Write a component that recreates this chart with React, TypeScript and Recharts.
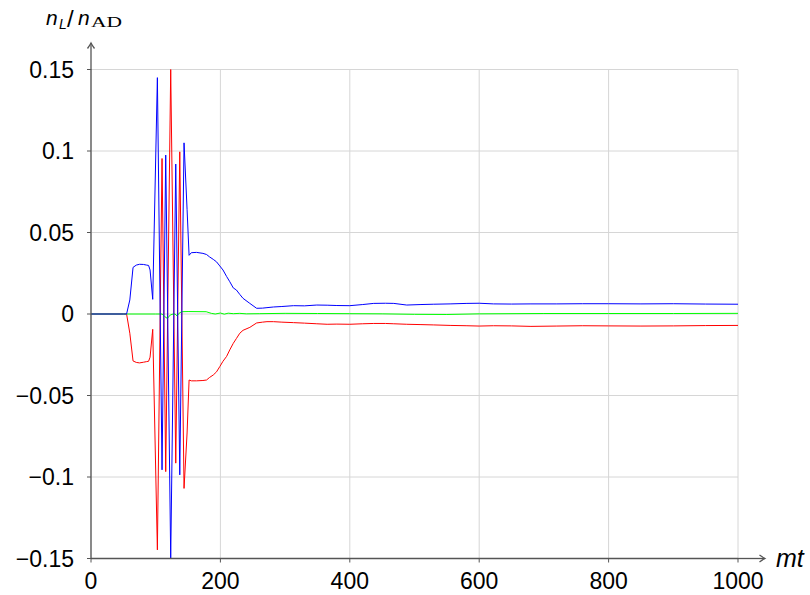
import React from 'react';
import { LineChart, Line, XAxis, YAxis, CartesianGrid } from 'recharts';

// blue and red share the same sample times (they mirror each other)
const signalTimes = [
  0, 50, 55, 60, 65, 70, 75, 81, 86, 89, 91.3, 95.4, 102.6, 109.8, 115.5, 123.2, 131, 137.2, 143.8,
  148.5, 151.6, 155, 163, 173, 178.6, 183, 189, 194, 199, 204, 209.6, 214.5, 219.9, 224.8, 230, 235,
  245.5, 256, 265, 272, 282, 295, 313, 330, 349, 365, 380, 400, 420, 437, 455, 468, 488, 510, 529,
  555, 581, 600, 622, 650, 680, 720, 760, 800, 850, 900, 950, 1000,
];
const blueValues = [
  0, 0, 0, 0.0086, 0.0286, 0.03, 0.0305, 0.0304, 0.03, 0.0298, 0.027, 0.009, 0.145, -0.0956, 0.0975, -0.15, 0.092, -0.0987, 0.105,
  0.064, 0.036, 0.0376, 0.0378, 0.0372, 0.0365, 0.0351, 0.0335, 0.032, 0.0295, 0.027, 0.023, 0.0198, 0.016, 0.0147, 0.012, 0.0096,
  0.0065, 0.0035, 0.0036, 0.0039, 0.0043, 0.0046, 0.0051, 0.005, 0.0055, 0.0054, 0.0052, 0.0051, 0.0058, 0.0065, 0.0066, 0.0065, 0.0055, 0.0058, 0.006,
  0.0062, 0.0065, 0.0066, 0.0062, 0.0061, 0.0062, 0.0062, 0.0063, 0.0063, 0.0062, 0.0063, 0.0061, 0.006,
];
const redValues = [
  0, 0, 0, -0.0118, -0.0288, -0.0297, -0.03, -0.0296, -0.0292, -0.029, -0.0265, -0.0094, -0.1447, 0.0954, -0.0967, 0.15, -0.0915, 0.0995, -0.107,
  -0.073, -0.0405, -0.041, -0.041, -0.0408, -0.0405, -0.039, -0.0374, -0.0355, -0.0323, -0.029, -0.026, -0.022, -0.018, -0.015, -0.0118, -0.01,
  -0.0082, -0.0055, -0.005, -0.0047, -0.0047, -0.005, -0.0053, -0.0056, -0.006, -0.0063, -0.0062, -0.0063, -0.006, -0.0058, -0.0058, -0.006, -0.0063, -0.0065, -0.0067,
  -0.007, -0.0072, -0.0074, -0.0072, -0.0073, -0.0076, -0.0074, -0.0072, -0.0073, -0.0074, -0.0073, -0.0071, -0.007,
];

const greenTimes = [
  0, 55, 100, 110, 114, 118, 122.6, 127, 130, 133, 136, 140, 150, 178, 186, 192, 200, 206, 212, 220,
  230, 240, 260, 300, 350, 400, 450, 500, 550, 600, 700, 800, 900, 1000,
];
const greenValues = [
  0, 0, 0, 0, -0.0016, -0.0027, -0.0006, 0, 0, -0.0012, 0.0004, 0.0014, 0.0015, 0.0014, 0.0004, 0, 0.0006, -0.0001, 0.0005, 0.0002,
  0.0004, 0.0001, 0.0002, 0.0004, 0.0003, 0.0002, 0.0001, -0.0002, -0.0003, 0.0001, 0.0003, 0.0003, 0.0003, 0.0004,
];

const xTicks = [0, 200, 400, 600, 800, 1000];
const yTicks = [-0.15, -0.1, -0.05, 0, 0.05, 0.1, 0.15];

const blueData = signalTimes.map((t, i) => ({ t, v: blueValues[i] }));
const redData = signalTimes.map((t, i) => ({ t, v: redValues[i] }));
const greenData = greenTimes.map((t, i) => ({ t, v: greenValues[i] }));

const FONT = '"Liberation Sans", Arial, sans-serif';
const AXIS = '#555';

export default function App() {
  return (
    <div style={{ position: 'relative', width: 810, height: 595 }}>
      <style>{`body { margin: 0; }`}</style>
      <LineChart width={810} height={595} margin={{ top: 69.5, right: 72, bottom: 0, left: 0 }}>
        <CartesianGrid stroke="#d6d6d6" strokeWidth={1} />
        <XAxis
          type="number"
          dataKey="t"
          domain={[0, 1000]}
          ticks={xTicks}
          height={36.5}
          tickSize={4}
          tickMargin={10}
          axisLine={{ stroke: AXIS, strokeWidth: 1.3 }}
          tickLine={{ stroke: AXIS }}
          tick={{ fill: '#000', fontSize: 23, fontFamily: FONT }}
        />
        <YAxis
          type="number"
          domain={[-0.15, 0.15]}
          ticks={yTicks}
          width={91}
          tickSize={4}
          tickMargin={13}
          axisLine={{ stroke: AXIS, strokeWidth: 1.3 }}
          tickLine={{ stroke: AXIS }}
          tick={{ fill: '#000', fontSize: 23, fontFamily: FONT }}
          tickFormatter={(v: number) => String(v).replace('-', '\u2212')}
        />
        <Line data={redData} dataKey="v" type="linear" stroke="#ff0000" strokeWidth={1} dot={false} isAnimationActive={false} />
        <Line data={greenData} dataKey="v" type="linear" stroke="#00ff00" strokeWidth={1} dot={false} isAnimationActive={false} />
        <Line data={blueData} dataKey="v" type="linear" stroke="#0000ff" strokeWidth={1} dot={false} isAnimationActive={false} />
      </LineChart>

      {/* axis arrows and titles */}
      <svg width={810} height={595} style={{ position: 'absolute', left: 0, top: 0, pointerEvents: 'none' }}>
        <g stroke={AXIS} strokeWidth={1.3} fill="none">
          <line x1={91} y1={70} x2={91} y2={43} />
          <path d="M87.5,48.5 Q90,45 91,43 Q92,45 94.5,48.5" />
          <line x1={738} y1={558.5} x2={765} y2={558.5} />
          <path d="M759.5,555 Q763,557.5 765,558.5 Q763,559.5 759.5,562" />
        </g>
        <g fill="#000">
          <text x={46} y={25} fontFamily={FONT} fontSize={21} fontStyle="italic">n</text>
          <text x={59} y={28.5} fontFamily={FONT} fontSize={14} fontStyle="italic">L</text>
          <text x={67} y={27} fontFamily={FONT} fontSize={24}>/</text>
          <text x={78} y={25} fontFamily={FONT} fontSize={21} fontStyle="italic">n</text>
          <text x={91} y={26.5} fontFamily='"Liberation Serif", serif' fontSize={15} textLength={31} lengthAdjust="spacingAndGlyphs">AD</text>
        </g>
        <text x={776} y={567} fontFamily={FONT} fontSize={25} fontStyle="italic" fill="#000">mt</text>
      </svg>
    </div>
  );
}
